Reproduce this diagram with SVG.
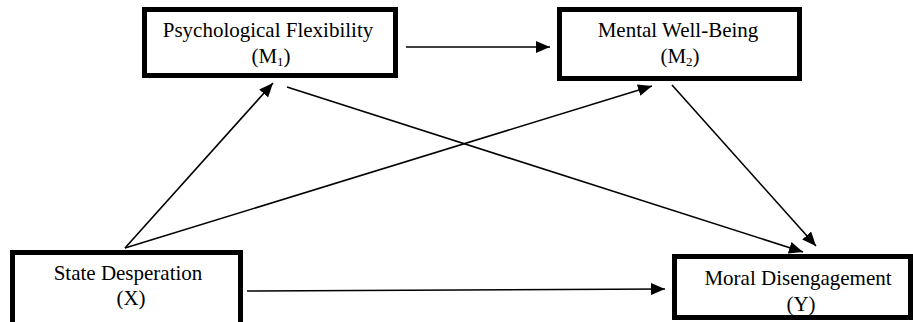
<svg xmlns="http://www.w3.org/2000/svg" width="913" height="322" viewBox="0 0 913 322">
<style>
.box{fill:#fff;stroke:#000;stroke-width:5}
.lbl{font-family:"Liberation Serif","Times New Roman",serif;font-size:21px;fill:#000;text-anchor:middle}
.sub{font-size:13px}
.conn{stroke:#000;stroke-width:1.6;fill:none;marker-end:url(#ah)}
</style>
<defs>
<marker id="ah" markerUnits="userSpaceOnUse" markerWidth="14" markerHeight="12" viewBox="0 0 14 12" refX="14" refY="6" orient="auto">
<path d="M0,0 L14,6 L0,12 z" fill="#000"/>
</marker>
</defs>
<rect width="913" height="322" fill="#fff"/>
<g id="m1">
<rect class="box" x="144.5" y="9.5" width="251" height="66"/>
<text class="lbl" x="268" y="37">Psychological Flexibility</text>
<text class="lbl" x="271" y="63">(M<tspan class="sub" dy="3">1</tspan><tspan dy="-3">)</tspan></text>
</g>
<g id="m2">
<rect class="box" x="559.5" y="9.5" width="240" height="69"/>
<text class="lbl" x="678" y="37">Mental Well-Being</text>
<text class="lbl" x="680" y="63">(M<tspan class="sub" dy="3">2</tspan><tspan dy="-3">)</tspan></text>
</g>
<g id="x">
<rect class="box" x="12.5" y="252.5" width="228" height="90"/>
<text class="lbl" x="128" y="280">State Desperation</text>
<text class="lbl" x="131" y="305">(X)</text>
</g>
<g id="y">
<rect class="box" x="674.5" y="256.5" width="236" height="61"/>
<text class="lbl" x="798" y="285">Moral Disengagement</text>
<text class="lbl" x="801" y="311">(Y)</text>
</g>
<g id="connectors">
<line class="conn" x1="406" y1="47" x2="550" y2="47"/>
<line class="conn" x1="125" y1="248" x2="273" y2="83"/>
<line class="conn" x1="125" y1="248" x2="652" y2="86"/>
<line class="conn" x1="287" y1="87" x2="803" y2="252"/>
<line class="conn" x1="672" y1="85" x2="816" y2="246"/>
<line class="conn" x1="247" y1="291" x2="665" y2="289"/>
</g>
</svg>
